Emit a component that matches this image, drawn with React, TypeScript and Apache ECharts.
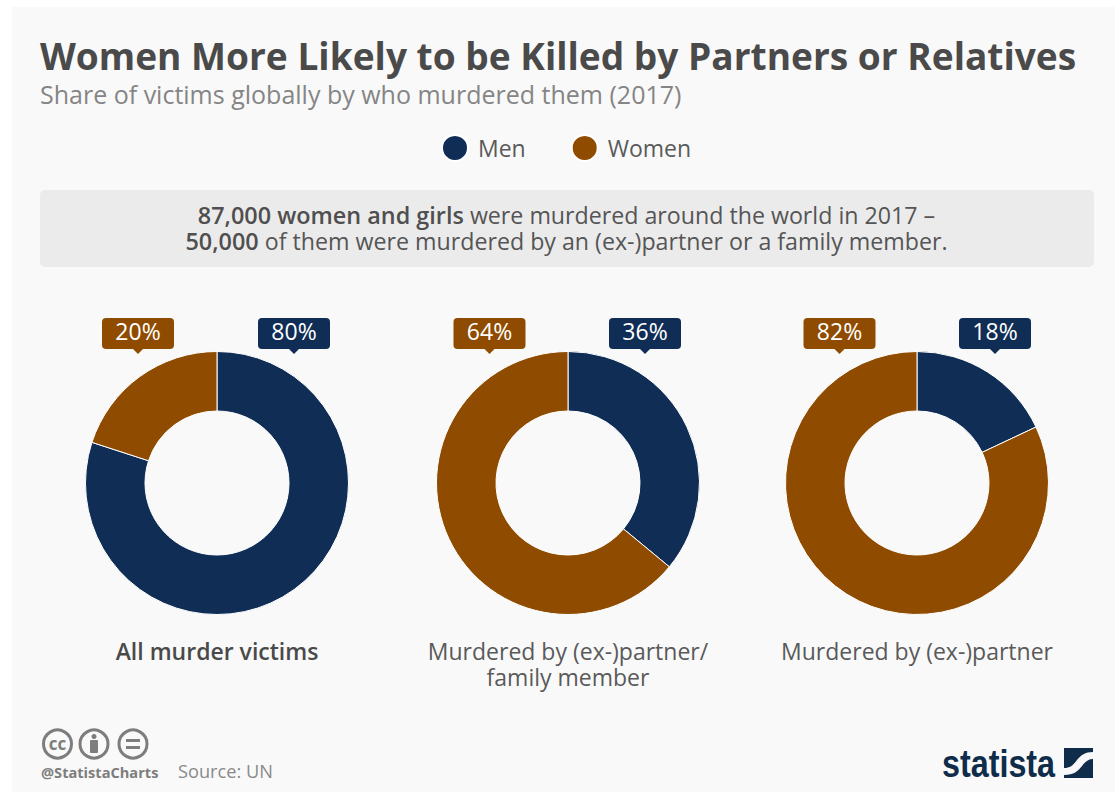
import React, { useEffect, useRef } from "react";
import * as echarts from "echarts";

const categories = ["All murder victims", "Murdered by (ex-)partner/\nfamily member", "Murdered by (ex-)partner"];
const seriesNames = ["Men", "Women"];
const menValues = [80, 36, 18];
const womenValues = [20, 64, 82];
const titleText = "Women More Likely to be Killed by Partners or Relatives";
const subtitleText = "Share of victims globally by who murdered them (2017)";
const sourceText = "Source: UN";
const handleText = "@StatistaCharts";
const brandText = "statista";

const NAVY = "#0f2d55";
const BROWN = "#8f4c00";
const FONT = "'Open Sans', sans-serif";
const centers = [217, 568, 917];
const womenLabelX = [138, 489.5, 839.5];
const menLabelX = [294, 645, 995];
const CY = 483;

echarts.graphic.registerShape(
  "statistaWave",
  echarts.graphic.extendPath(
    "M0 20 C7 20 9 17 13 12 C17 7 21 4 29 4 L29 11 C24 11 21 14 18 18 C14 23 10 27 0 27 Z",
    {}
  )
);

function callout(cx: number, y: number, color: string, value: number) {
  return [
    { type: "rect", shape: { x: cx - 36, y, width: 72, height: 31, r: 4 }, style: { fill: color } },
    { type: "polygon", shape: { points: [[cx - 5, y + 31], [cx + 5, y + 31], [cx, y + 36]] }, style: { fill: color } },
    {
      type: "text", x: cx, y: y + 13, z: 5,
      style: { text: `${value}%`, fill: "#fff", font: `500 23px ${FONT}`, align: "center", verticalAlign: "middle" },
    },
  ];
}

export default function App() {
  const ref = useRef<HTMLDivElement>(null);
  useEffect(() => {
    const chart = echarts.init(ref.current!, null, { renderer: "svg" });
    const graphics: any[] = [
      { type: "rect", z: -10, shape: { x: 12, y: 7, width: 1103, height: 785 }, style: { fill: "#f9f9f9" } },
      { type: "rect", z: -9, shape: { x: 40, y: 190, width: 1054, height: 77, r: 5 }, style: { fill: "#ebebeb" } },
      {
        type: "text", x: 40, y: 55,
        style: { text: titleText, fill: "#4a4a4a", font: `700 37.1px ${FONT}`, verticalAlign: "middle" },
      },
      {
        type: "text", x: 40, y: 94,
        style: { text: subtitleText, fill: "#858585", font: `400 25px ${FONT}`, verticalAlign: "middle" },
      },
      {
        type: "text", x: 566.5, y: 228,
        style: {
          align: "center", verticalAlign: "middle",
          text: "{b|87,000 women and girls }{n|were murdered around the world in 2017 –}\n{b|50,000 }{n|of them were murdered by an (ex-)partner or a family member.}",
          rich: {
            b: { font: `600 23.4px ${FONT}`, fill: "#4f4f4f", lineHeight: 26 },
            n: { font: `400 23.2px ${FONT}`, fill: "#555555", lineHeight: 26 },
          },
        },
      },
      { type: "circle", shape: { cx: 57.5, cy: 744, r: 14 }, style: { fill: "none", stroke: "#7d7d7d", lineWidth: 3 } },
      { type: "text", x: 57.5, y: 743, style: { text: "cc", fill: "#7d7d7d", font: `700 17px ${FONT}`, align: "center", verticalAlign: "middle" } },
      { type: "circle", shape: { cx: 94, cy: 744, r: 14 }, style: { fill: "none", stroke: "#7d7d7d", lineWidth: 3 } },
      { type: "circle", shape: { cx: 94, cy: 736.5, r: 2.5 }, style: { fill: "#7d7d7d" } },
      { type: "rect", shape: { x: 90, y: 740, width: 8, height: 13, r: 1 }, style: { fill: "#7d7d7d" } },
      { type: "circle", shape: { cx: 133, cy: 744, r: 14 }, style: { fill: "none", stroke: "#7d7d7d", lineWidth: 3 } },
      { type: "rect", shape: { x: 126, y: 739, width: 14, height: 3 }, style: { fill: "#7d7d7d" } },
      { type: "rect", shape: { x: 126, y: 746, width: 14, height: 3 }, style: { fill: "#7d7d7d" } },
      { type: "text", x: 41, y: 772, style: { text: handleText, fill: "#7d7d7d", font: `700 14.6px ${FONT}`, verticalAlign: "middle" } },
      { type: "text", x: 178, y: 771, style: { text: sourceText, fill: "#8a8a8a", font: `400 18.2px ${FONT}`, verticalAlign: "middle" } },
      { type: "text", x: 942, y: 764, scaleX: 0.85, style: { text: brandText, fill: "#0f2d4a", font: `700 38px 'Liberation Sans', sans-serif`, verticalAlign: "middle" } },
      { type: "rect", shape: { x: 1064, y: 748, width: 29, height: 30 }, style: { fill: "#0f2d4a" } },
      { type: "statistaWave", x: 1064, y: 748, style: { fill: "#f9f9f9" } },
    ];
    categories.forEach((c, i) => {
      graphics.push(...callout(womenLabelX[i], 318, BROWN, womenValues[i]));
      graphics.push(...callout(menLabelX[i], 318, NAVY, menValues[i]));
      c.split("\n").forEach((line, j) => {
        graphics.push({
          type: "text", x: centers[i], y: 651 + j * 26,
          style: {
            text: line, align: "center", verticalAlign: "middle",
            fill: i === 0 ? "#4a4a4a" : "#5a5a5a",
            font: `${i === 0 ? 600 : 400} 23px ${FONT}`,
          },
        });
      });
    });
    chart.setOption({
      animation: false,
      backgroundColor: "#ffffff",
      legend: {
        left: 441, top: 134, itemWidth: 26, itemHeight: 26, itemGap: 45, icon: "circle", padding: 0,
        data: seriesNames,
        textStyle: { fontFamily: FONT, fontSize: 23, color: "#5a5a5a", padding: [0, 0, 0, 5] },
      },
      graphic: graphics,
      series: categories.map((c, i) => ({
        type: "pie",
        name: c,
        center: [centers[i], CY],
        radius: [72, 131.5],
        startAngle: 90,
        clockwise: true,
        label: { show: false },
        labelLine: { show: false },
        itemStyle: { borderColor: "#ffffff", borderWidth: 1 },
        data: [
          { name: seriesNames[0], value: menValues[i], itemStyle: { color: NAVY } },
          { name: seriesNames[1], value: womenValues[i], itemStyle: { color: BROWN } },
        ],
      })),
    });
    return () => chart.dispose();
  }, []);
  return <div ref={ref} style={{ position: "fixed", left: 0, top: 0, width: 1115, height: 792 }} />;
}
